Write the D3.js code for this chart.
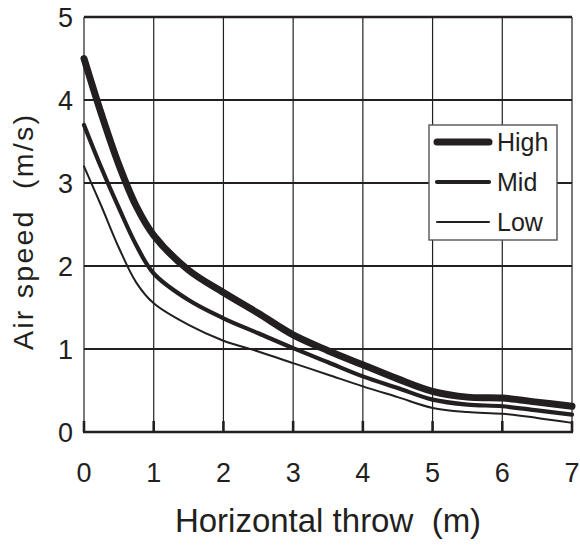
<!DOCTYPE html>
<html>
<head>
<meta charset="utf-8">
<script src="https://cdn.jsdelivr.net/npm/d3@7/dist/d3.min.js"></script>
<style>
  html, body { margin: 0; padding: 0; background: #fff; }
  svg { display: block; }
  text { font-family: "Liberation Sans", Arial, Helvetica, sans-serif; fill: #231f20; white-space: pre; }
</style>
</head>
<body>
<svg id="chart" width="580" height="546"></svg>
<script>
// ---- data ----
const throwM = [0, 0.25, 0.5, 0.75, 1, 1.5, 2, 2.5, 3, 3.5, 4, 4.5, 5, 5.5, 6, 6.5, 7];
const highSpeed = [4.50, 3.83, 3.22, 2.72, 2.37, 1.95, 1.68, 1.43, 1.17, 0.98, 0.81, 0.64, 0.49, 0.42, 0.41, 0.36, 0.31];
const midSpeed  = [3.70, 3.18, 2.70, 2.25, 1.91, 1.59, 1.37, 1.19, 1.01, 0.84, 0.67, 0.53, 0.39, 0.33, 0.31, 0.26, 0.21];
const lowSpeed  = [3.20, 2.72, 2.22, 1.80, 1.55, 1.29, 1.10, 0.97, 0.83, 0.69, 0.55, 0.42, 0.29, 0.24, 0.22, 0.17, 0.11];
const seriesNames = ["High", "Mid", "Low"];
const xTicks = [0, 1, 2, 3, 4, 5, 6, 7];
const yTicks = [0, 1, 2, 3, 4, 5];
const xTitle = "Horizontal throw  (m)";
const yTitle = "Air speed  (m/s)";

const widths = { High: 7, Mid: 4.2, Low: 2 };
const ink = "#231f20";

const svg = d3.select("#chart");
const pL = 84, pR = 572, pT = 17, pB = 432;

const x = d3.scaleLinear().domain([0, 7]).range([pL, pR]);
const y = d3.scaleLinear().domain([0, 5]).range([pB, pT]);

// vertical grid lines
svg.append("g").selectAll("line").data(xTicks).join("line")
  .attr("x1", d => x(d)).attr("x2", d => x(d))
  .attr("y1", pT).attr("y2", pB)
  .attr("stroke", ink).attr("stroke-width", 1.2);

// horizontal grid lines
svg.append("g").selectAll("line").data(yTicks.filter(d => d > 0)).join("line")
  .attr("x1", pL).attr("x2", pR)
  .attr("y1", d => y(d)).attr("y2", d => y(d))
  .attr("stroke", ink).attr("stroke-width", d => d === 5 ? 2.6 : 2);

// bottom axis
svg.append("line").attr("x1", pL - 1).attr("x2", pR + 1)
  .attr("y1", pB).attr("y2", pB)
  .attr("stroke", ink).attr("stroke-width", 2.6);
svg.append("g").selectAll("line").data(xTicks).join("line")
  .attr("x1", d => x(d)).attr("x2", d => x(d))
  .attr("y1", pB).attr("y2", pB - 11)
  .attr("stroke", ink).attr("stroke-width", 2.6);

// tick labels
svg.append("g").selectAll("text").data(xTicks).join("text")
  .attr("x", d => x(d)).attr("y", 482)
  .attr("text-anchor", "middle")
  .attr("font-size", 27)
  .text(d => d);
svg.append("g").selectAll("text").data(yTicks).join("text")
  .attr("x", 73).attr("y", d => y(d) + 10)
  .attr("text-anchor", "end")
  .attr("font-size", 27)
  .text(d => d);

// axis titles
svg.append("text").attr("x", (pL + pR) / 2).attr("y", 532)
  .attr("text-anchor", "middle").attr("font-size", 33).text(xTitle);
svg.append("text")
  .attr("transform", "translate(33,232.5) rotate(-90)")
  .attr("text-anchor", "middle").attr("font-size", 28.5)
  .attr("textLength", 235).attr("lengthAdjust", "spacing")
  .text(yTitle);

// lines
const data = [highSpeed, midSpeed, lowSpeed];
const line = d3.line().x((d, i) => x(throwM[i])).y(d => y(d)).curve(d3.curveCatmullRom.alpha(0.5));
svg.append("g").selectAll("path").data(seriesNames).join("path")
  .attr("d", (n, i) => line(data[i]))
  .attr("fill", "none").attr("stroke", ink)
  .attr("stroke-width", n => widths[n])
  .attr("stroke-linecap", "round").attr("stroke-linejoin", "round");

// legend
const lg = svg.append("g");
lg.append("rect").attr("x", 429).attr("y", 125).attr("width", 128).attr("height", 115)
  .attr("fill", "#fff").attr("stroke", "#555").attr("stroke-width", 1.4);
const legY = [142, 182, 222];
seriesNames.forEach((n, i) => {
  lg.append("line").attr("x1", 437).attr("x2", 489).attr("y1", legY[i]).attr("y2", legY[i])
    .attr("stroke", ink).attr("stroke-width", widths[n]).attr("stroke-linecap", "round");
  lg.append("text").attr("x", 497).attr("y", legY[i] + 9)
    .attr("font-size", 25).text(n);
});
</script>
</body>
</html>
